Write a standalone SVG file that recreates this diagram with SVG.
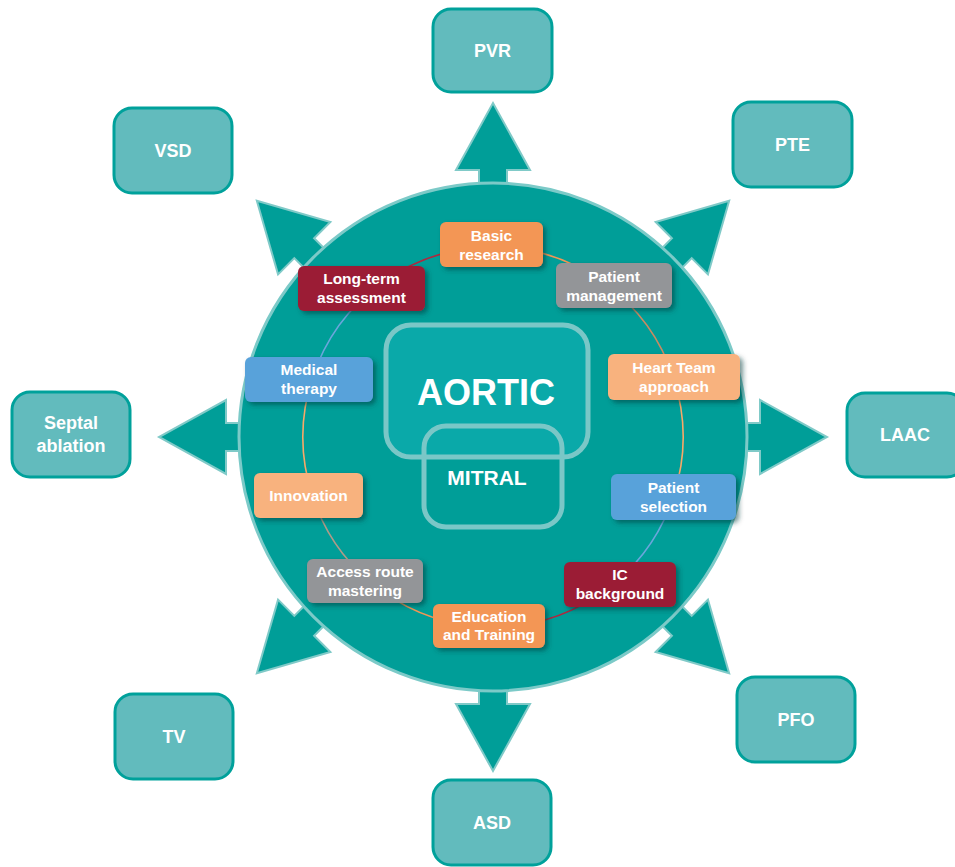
<svg xmlns="http://www.w3.org/2000/svg" width="955" height="867" viewBox="0 0 955 867">
<defs>
<style>
.outer{fill:#62bbbd;stroke:#00a19b;stroke-width:3}
.ot{font-family:"Liberation Sans",Arial,sans-serif;font-weight:bold;font-size:18px;fill:#fff;text-anchor:middle}
.it{font-family:"Liberation Sans",Arial,sans-serif;font-weight:bold;font-size:15.5px;fill:#fff;text-anchor:middle}
.arrow{fill:#009e98;stroke:#80cac8;stroke-width:2;stroke-linejoin:miter}
.ring{fill:none;stroke-width:1.6}
.ib{filter:url(#sh)}
.orange{fill:#f39655}
.lorange{fill:#f8b27e}
.red{fill:#9b1d35}
.gray{fill:#939598}
.blue{fill:#58a2da}
</style>
<filter id="sh" x="-20%" y="-30%" width="150%" height="170%">
<feDropShadow dx="3" dy="3" stdDeviation="2.5" flood-color="#003b3a" flood-opacity="0.55"/>
</filter>
<polygon id="arr" class="arrow" points="-14,-235 -14,-267 -37,-267 0,-334 37,-267 14,-267 14,-235"/>
</defs>
<rect width="955" height="867" fill="#fff"/>
<g id="connectors">
<use href="#arr" transform="translate(493 437)"/>
<use href="#arr" transform="translate(493 437) rotate(45)"/>
<use href="#arr" transform="translate(493 437) rotate(90)"/>
<use href="#arr" transform="translate(493 437) rotate(135)"/>
<use href="#arr" transform="translate(493 437) rotate(180)"/>
<use href="#arr" transform="translate(493 437) rotate(225)"/>
<use href="#arr" transform="translate(493 437) rotate(270)"/>
<use href="#arr" transform="translate(493 437) rotate(315)"/>
</g>
<g id="hub">
<circle cx="493" cy="437" r="254" fill="#009e98" stroke="#7ccac8" stroke-width="3"/>
<path class="ring" stroke="#b0283f" d="M381.3,283.3 A190,190 0 0 1 493,247"/>
<path class="ring" stroke="#f39655" d="M493,247 A190,190 0 0 1 604.7,283.3"/>
<path class="ring" stroke="#c98a62" d="M604.7,283.3 A190,190 0 0 1 673.7,378.3"/>
<path class="ring" stroke="#f8a868" d="M673.7,378.3 A190,190 0 0 1 673.7,495.7"/>
<path class="ring" stroke="#6aa6dc" d="M673.7,495.7 A190,190 0 0 1 604.7,590.7"/>
<path class="ring" stroke="#b0283f" d="M604.7,590.7 A190,190 0 0 1 493,627"/>
<path class="ring" stroke="#f39655" d="M493,627 A190,190 0 0 1 381.3,590.7"/>
<path class="ring" stroke="#b09a88" d="M381.3,590.7 A190,190 0 0 1 312.3,495.7"/>
<path class="ring" stroke="#f8a868" d="M312.3,495.7 A190,190 0 0 1 312.3,378.3"/>
<path class="ring" stroke="#6aa6dc" d="M312.3,378.3 A190,190 0 0 1 381.3,283.3"/>
</g>
<g id="aortic">
<rect x="386" y="325" width="202" height="132" rx="25" fill="#0aa9a9" stroke="#7ac7c7" stroke-width="5"/>
<text x="486" y="405" font-family="Liberation Sans,Arial,sans-serif" font-weight="bold" font-size="36" fill="#fff" text-anchor="middle">AORTIC</text>
</g>
<g id="mitral">
<rect x="424" y="426" width="138" height="101" rx="22" fill="none" stroke="#7ac7c7" stroke-width="5"/>
<text x="487" y="485" font-family="Liberation Sans,Arial,sans-serif" font-weight="bold" font-size="21" fill="#fff" text-anchor="middle">MITRAL</text>
</g>
<g id="basic-research"><rect class="ib orange" x="440" y="222" width="103" height="45" rx="6"/><text class="it" x="491.5" y="241">Basic</text><text class="it" x="491.5" y="260">research</text></g>
<g id="long-term"><rect class="ib red" x="298" y="266" width="127" height="45" rx="6"/><text class="it" x="361.5" y="284">Long-term</text><text class="it" x="361.5" y="303">assessment</text></g>
<g id="patient-management"><rect class="ib gray" x="556" y="263" width="116" height="45" rx="6"/><text class="it" x="614" y="282">Patient</text><text class="it" x="614" y="301">management</text></g>
<g id="medical-therapy"><rect class="ib blue" x="245" y="357" width="128" height="45" rx="6"/><text class="it" x="309" y="375">Medical</text><text class="it" x="309" y="394">therapy</text></g>
<g id="heart-team"><rect class="ib lorange" x="608" y="354" width="132" height="46" rx="6"/><text class="it" x="674" y="373">Heart Team</text><text class="it" x="674" y="392">approach</text></g>
<g id="innovation"><rect class="ib lorange" x="254" y="473" width="109" height="45" rx="6"/><text class="it" x="308.5" y="501">Innovation</text></g>
<g id="patient-selection"><rect class="ib blue" x="611" y="474" width="125" height="46" rx="6"/><text class="it" x="673.5" y="493">Patient</text><text class="it" x="673.5" y="512">selection</text></g>
<g id="access-route"><rect class="ib gray" x="307" y="559" width="116" height="44" rx="6"/><text class="it" x="365" y="577">Access route</text><text class="it" x="365" y="596">mastering</text></g>
<g id="ic-background"><rect class="ib red" x="564" y="562" width="112" height="45" rx="6"/><text class="it" x="620" y="580">IC</text><text class="it" x="620" y="599">background</text></g>
<g id="education"><rect class="ib orange" x="433" y="604" width="112" height="44" rx="6"/><text class="it" x="489" y="622">Education</text><text class="it" x="489" y="640">and Training</text></g>
<g id="pvr"><rect class="outer" x="433" y="9" width="119" height="83" rx="18"/><text class="ot" x="492.5" y="57">PVR</text></g>
<g id="pte"><rect class="outer" x="733" y="102" width="119" height="85" rx="18"/><text class="ot" x="792.5" y="151">PTE</text></g>
<g id="laac"><rect class="outer" x="847" y="393" width="118" height="84" rx="18"/><text class="ot" x="905" y="441">LAAC</text></g>
<g id="pfo"><rect class="outer" x="737" y="677" width="118" height="85" rx="18"/><text class="ot" x="796" y="726">PFO</text></g>
<g id="asd"><rect class="outer" x="433" y="780" width="118" height="85" rx="18"/><text class="ot" x="492" y="829">ASD</text></g>
<g id="tv"><rect class="outer" x="115" y="694" width="118" height="85" rx="18"/><text class="ot" x="174" y="743">TV</text></g>
<g id="septal"><rect class="outer" x="12" y="392" width="118" height="85" rx="18"/><text class="ot" x="71" y="429">Septal</text><text class="ot" x="71" y="452">ablation</text></g>
<g id="vsd"><rect class="outer" x="114" y="108" width="118" height="85" rx="18"/><text class="ot" x="173" y="157">VSD</text></g>
</svg>
